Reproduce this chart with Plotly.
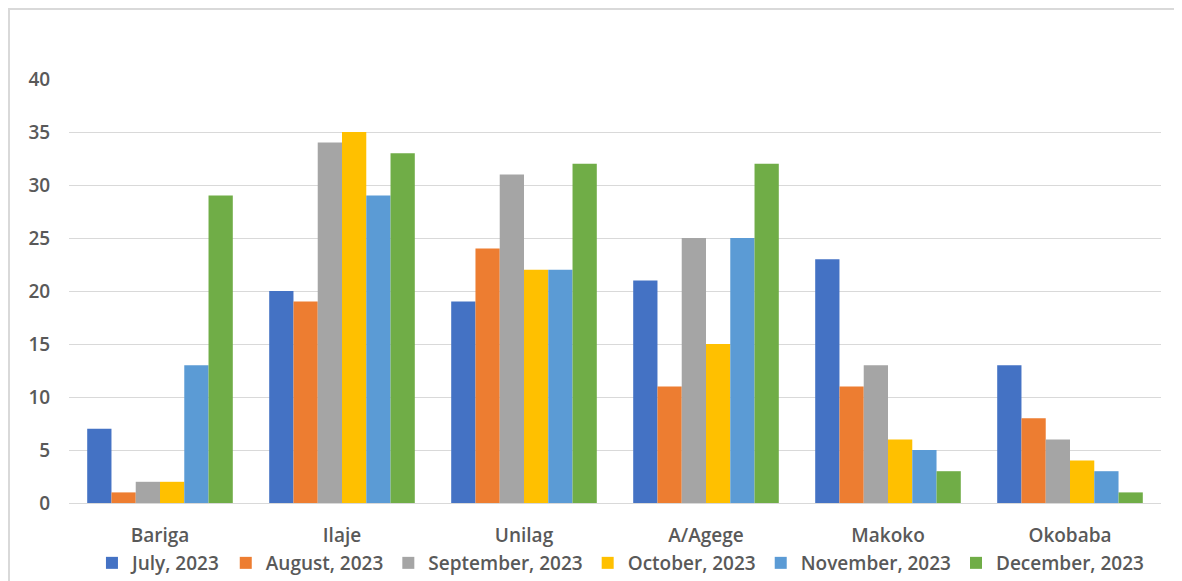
import plotly.graph_objects as go

categories = ["Bariga", "Ilaje", "Unilag", "A/Agege", "Makoko", "Okobaba"]
series_names = ["July, 2023", "August, 2023", "September, 2023", "October, 2023", "November, 2023", "December, 2023"]
july = [7, 20, 19, 21, 23, 13]
august = [1, 19, 24, 11, 11, 8]
september = [2, 34, 31, 25, 13, 6]
october = [2, 35, 22, 15, 6, 4]
november = [13, 29, 22, 25, 5, 3]
december = [29, 33, 32, 32, 3, 1]
y_ticks = [0, 5, 10, 15, 20, 25, 30, 35, 40]

values = [july, august, september, october, november, december]
colors = ["#4472C4", "#ED7D31", "#A5A5A5", "#FFC000", "#5B9BD5", "#70AD47"]

# page body has an 8px margin, so the figure is offset by 8px
OFF = 8
W, H = 1182 - OFF, 581 - OFF
L, R, T, B = 69 - OFF, 21, 79 - OFF, 581 - 503
pw, ph = W - L - R, H - T - B

fig = go.Figure()
for name, vals, c in zip(series_names, values, colors):
    fig.add_trace(go.Bar(x=categories, y=vals, name=name, marker=dict(color=c, line=dict(width=0))))

font = "Open Sans, Liberation Sans, sans-serif"
tf = dict(family=font, size=19, color="#595959", weight=600)
fig.update_layout(
    width=W, height=H,
    margin=dict(l=L, r=R, t=T, b=B, autoexpand=False),
    paper_bgcolor="white", plot_bgcolor="white",
    barmode="group", bargap=0.2, bargroupgap=0,
    font=tf,
    showlegend=True,
    legend=dict(orientation="h", x=0.505, xanchor="center", y=(503 - 563) / ph, yanchor="middle",
                font=tf, itemwidth=30, tracegroupgap=0,
                bgcolor="rgba(0,0,0,0)"),
    xaxis=dict(showgrid=False, showline=True, linecolor="#D9D9D9", linewidth=1,
               ticks="outside", ticklen=15, tickcolor="rgba(0,0,0,0)",
               tickfont=tf),
    yaxis=dict(range=[0, 40], tickvals=y_ticks, showgrid=True, gridcolor="#D9D9D9", gridwidth=1,
               zeroline=False, showline=False, ticks="outside", ticklen=14, tickcolor="rgba(0,0,0,0)",
               tickfont=tf),
    shapes=[dict(type="rect", xref="paper", yref="paper",
                 x0=(1 - L) / pw, x1=(W + 20 - L) / pw,
                 y0=-(B + 20) / ph, y1=1 + (T - 1) / ph,
                 line=dict(color="#D9D9D9", width=2), fillcolor="rgba(0,0,0,0)", layer="below")],
)

fig.write_html("out.html")
